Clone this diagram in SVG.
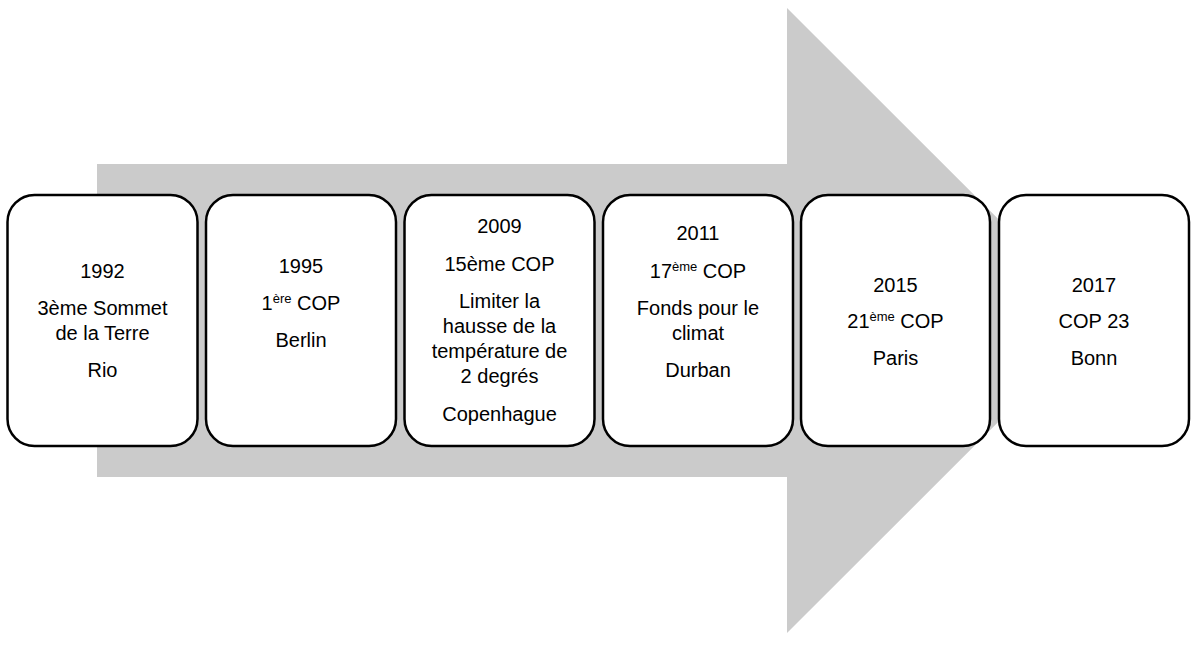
<svg xmlns="http://www.w3.org/2000/svg" width="1192" height="668" viewBox="0 0 1192 668">
<style>
.box{fill:#fff;stroke:#000;stroke-width:2.5}
.t{font-family:"Liberation Sans",Arial,sans-serif;font-size:20px;fill:#000;text-anchor:middle}
.sup{font-size:13px}
</style>
<rect width="1192" height="668" fill="#fff"/>
<g id="connectors">
<polygon points="97,164 787,164 787,8 1100,320.5 787,633 787,477 97,477" fill="#cbcbcb"/>
</g>
<g id="n1">
<rect class="box" x="7.5" y="195" width="190" height="251" rx="27"/>
<text class="t"><tspan x="102.5" y="278">1992</tspan><tspan x="102.5" y="315">3ème Sommet</tspan><tspan x="102.5" y="340">de la Terre</tspan><tspan x="102.5" y="377">Rio</tspan></text>
</g>
<g id="n2">
<rect class="box" x="206" y="195" width="190" height="251" rx="27"/>
<text class="t"><tspan x="301" y="273">1995</tspan><tspan x="301" y="310">1<tspan class="sup" dy="-7">ère</tspan><tspan dy="7"> COP</tspan></tspan><tspan x="301" y="347">Berlin</tspan></text>
</g>
<g id="n3">
<rect class="box" x="404.5" y="195" width="190" height="251" rx="27"/>
<text class="t"><tspan x="499.5" y="233">2009</tspan><tspan x="499.5" y="271">15ème COP</tspan><tspan x="499.5" y="308">Limiter la</tspan><tspan x="499.5" y="333">hausse de la</tspan><tspan x="499.5" y="358">température de</tspan><tspan x="499.5" y="383">2 degrés</tspan><tspan x="499.5" y="421">Copenhague</tspan></text>
</g>
<g id="n4">
<rect class="box" x="603" y="195" width="190" height="251" rx="27"/>
<text class="t"><tspan x="698" y="240">2011</tspan><tspan x="698" y="278">17<tspan class="sup" dy="-7">ème</tspan><tspan dy="7"> COP</tspan></tspan><tspan x="698" y="315">Fonds pour le</tspan><tspan x="698" y="340">climat</tspan><tspan x="698" y="377">Durban</tspan></text>
</g>
<g id="n5">
<rect class="box" x="801" y="195" width="189" height="251" rx="27"/>
<text class="t"><tspan x="895.5" y="292">2015</tspan><tspan x="895.5" y="328">21<tspan class="sup" dy="-7">ème</tspan><tspan dy="7"> COP</tspan></tspan><tspan x="895.5" y="365">Paris</tspan></text>
</g>
<g id="n6">
<rect class="box" x="999" y="195" width="190" height="251" rx="27"/>
<text class="t"><tspan x="1094" y="292">2017</tspan><tspan x="1094" y="328">COP 23</tspan><tspan x="1094" y="365">Bonn</tspan></text>
</g>
</svg>
